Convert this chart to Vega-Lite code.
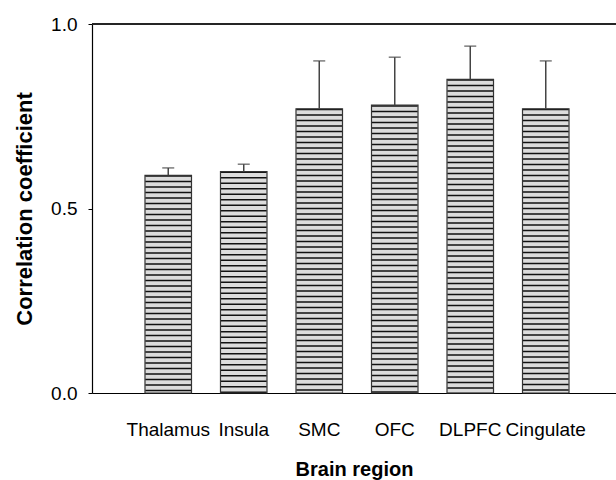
{
  "$schema": "https://vega.github.io/schema/vega-lite/v6.json",
  "width": 524,
  "height": 369,
  "autosize": {"type": "none"},
  "padding": {"left": 92, "top": 24, "right": 0, "bottom": 87},
  "background": "white",
  "config": {"view": {"stroke": null}, "font": "Liberation Sans", "axis": {"grid": false}},
  "data": {
    "values": [
      {"region": "Thalamus", "r": 0.59, "upper": 0.61},
      {"region": "Insula", "r": 0.60, "upper": 0.62},
      {"region": "SMC", "r": 0.77, "upper": 0.90},
      {"region": "OFC", "r": 0.78, "upper": 0.91},
      {"region": "DLPFC", "r": 0.85, "upper": 0.94},
      {"region": "Cingulate", "r": 0.77, "upper": 0.90}
    ]
  },
  "layer": [
    {
      "mark": {"type": "bar", "fill": "#dcdcdc"},
      "encoding": {
        "x": {
          "field": "region",
          "type": "nominal",
          "sort": null,
          "scale": {"paddingInner": 0.384, "paddingOuter": 0.662, "align": 0.53},
          "axis": {
            "title": "Brain region",
            "labelAngle": 0,
            "ticks": false,
            "labelPadding": 27,
            "labelFontSize": 19,
            "labelColor": "black",
            "titleFontSize": 20,
            "titleFontWeight": "bold",
            "titleColor": "black",
            "titlePadding": 20,
            "domainColor": "black",
            "domainWidth": 1.2
          }
        },
        "y": {
          "field": "r",
          "type": "quantitative",
          "scale": {"domain": [0, 1]},
          "axis": {
            "title": "Correlation coefficient",
            "values": [0, 0.5, 1],
            "format": ".1f",
            "tickSize": 4,
            "tickColor": "black",
            "labelPadding": 11,
            "labelFontSize": 19,
            "labelColor": "black",
            "labelFlush": false,
            "titleFontSize": 22,
            "titleFontWeight": "bold",
            "titleColor": "black",
            "titlePadding": 14,
            "domainColor": "black",
            "domainWidth": 1.2
          }
        }
      }
    },
    {
      "mark": {"type": "rule", "strokeWidth": 46, "strokeDash": [1.5, 4], "color": "#111"},
      "encoding": {
        "x": {"field": "region", "type": "nominal", "sort": null, "title": "Brain region"},
        "y": {"field": "r", "type": "quantitative", "title": "Correlation coefficient"},
        "y2": {"datum": 0}
      }
    },
    {
      "mark": {"type": "bar", "fillOpacity": 0, "stroke": "#333", "strokeWidth": 1.2},
      "encoding": {
        "x": {"field": "region", "type": "nominal", "sort": null, "title": "Brain region"},
        "y": {"field": "r", "type": "quantitative", "title": "Correlation coefficient"}
      }
    },
    {
      "mark": {"type": "rule", "color": "#444", "strokeWidth": 1.5},
      "encoding": {
        "x": {"field": "region", "type": "nominal", "sort": null, "title": "Brain region"},
        "y": {"field": "r", "type": "quantitative", "title": "Correlation coefficient"},
        "y2": {"field": "upper"}
      }
    },
    {
      "mark": {"type": "tick", "color": "#444", "thickness": 1.5, "size": 12},
      "encoding": {
        "x": {"field": "region", "type": "nominal", "sort": null, "title": "Brain region"},
        "y": {"field": "upper", "type": "quantitative", "title": "Correlation coefficient"}
      }
    },
    {
      "mark": {"type": "rule", "color": "#222", "strokeWidth": 1.2},
      "encoding": {"y": {"datum": 1, "type": "quantitative", "title": "Correlation coefficient"}}
    }
  ]
}
